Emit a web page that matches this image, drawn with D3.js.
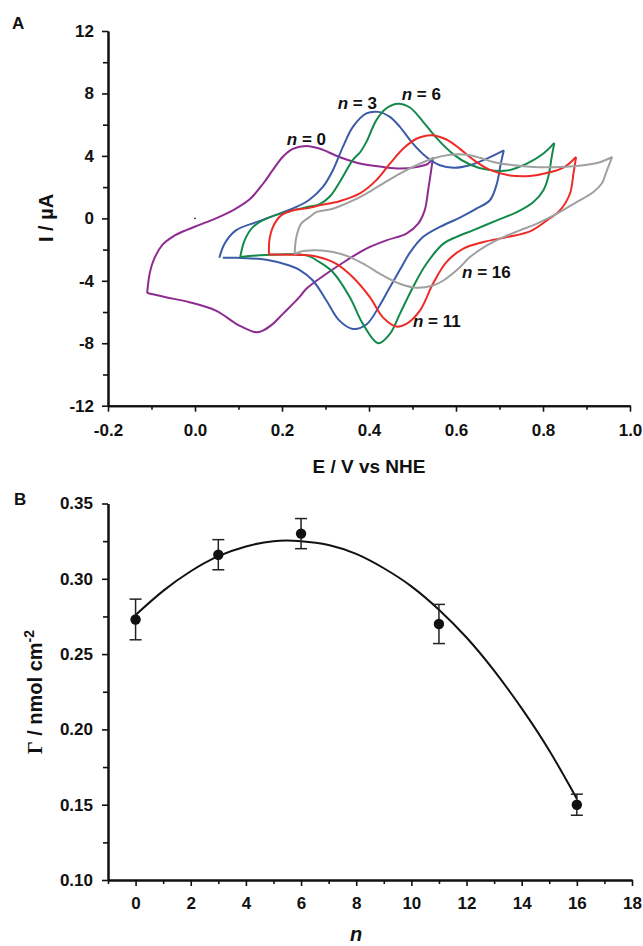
<!DOCTYPE html>
<html>
<head>
<meta charset="utf-8">
<script src="https://cdn.jsdelivr.net/npm/d3@7"></script>
<style>
  html, body { margin: 0; padding: 0; background: #fff; }
  svg { display: block; }
  text { font-family: "Liberation Sans", Arial, Helvetica, sans-serif; font-weight: bold; fill: #111; }
</style>
</head>
<body>
<div id="chart"></div>
<script>
// ---------------- Panel A data: cyclic voltammograms [E (V vs NHE), I (µA)] ----------------
const seriesNames = ["n = 0", "n = 3", "n = 6", "n = 11", "n = 16"];
const seriesColors = ["#8e2b91", "#3b5ba8", "#138a4b", "#ee2a26", "#a0a0a0"];

const cvN0 = [[-0.110,-4.78],[-0.104,-3.50],[-0.094,-2.60],[-0.075,-1.70],[-0.050,-1.15],[-0.020,-0.75],[0.010,-0.42],[0.048,0.00],[0.087,0.51],[0.125,1.20],[0.156,2.20],[0.179,3.10],[0.202,3.95],[0.225,4.45],[0.256,4.64],[0.286,4.47],[0.332,3.93],[0.379,3.51],[0.432,3.29],[0.471,3.19],[0.509,3.29],[0.536,3.51],[0.547,3.90],
  [0.544,3.29],[0.536,1.80],[0.528,0.51],[0.513,-0.34],[0.486,-0.98],[0.440,-1.41],[0.394,-1.94],[0.348,-2.70],[0.302,-3.55],[0.256,-4.51],[0.240,-5.05],[0.202,-6.12],[0.179,-6.76],[0.156,-7.19],[0.141,-7.30],[0.102,-6.87],[0.048,-5.91],[-0.013,-5.37],[-0.067,-5.05],[-0.110,-4.78]];

const cvN3 = [[0.056,-2.52],[0.068,-1.62],[0.094,-0.77],[0.141,-0.24],[0.194,0.30],[0.233,0.73],[0.263,1.19],[0.294,2.01],[0.317,3.08],[0.340,4.58],[0.363,5.86],[0.394,6.72],[0.421,6.82],[0.448,6.50],[0.471,5.86],[0.501,4.79],[0.532,3.93],[0.563,3.40],[0.594,3.24],[0.632,3.40],[0.671,3.83],[0.710,4.36],
  [0.703,3.51],[0.694,2.23],[0.678,1.16],[0.647,0.62],[0.609,0.05],[0.563,-0.55],[0.524,-1.20],[0.494,-2.20],[0.471,-3.30],[0.448,-4.41],[0.424,-5.60],[0.394,-6.80],[0.363,-7.08],[0.332,-6.55],[0.302,-5.26],[0.271,-3.98],[0.240,-3.30],[0.217,-3.02],[0.164,-2.65],[0.087,-2.52],[0.064,-2.52]];

const cvN6 = [[0.104,-2.48],[0.114,-1.41],[0.133,-0.56],[0.164,-0.02],[0.210,0.40],[0.256,0.71],[0.286,0.90],[0.310,1.40],[0.332,2.30],[0.363,3.75],[0.380,4.25],[0.394,4.90],[0.417,6.29],[0.440,7.05],[0.467,7.34],[0.494,7.10],[0.524,6.20],[0.555,5.15],[0.594,4.10],[0.632,3.45],[0.671,3.12],[0.717,3.06],[0.763,3.51],[0.801,4.15],[0.826,4.83],
  [0.820,3.93],[0.812,2.65],[0.801,1.80],[0.778,1.05],[0.740,0.40],[0.694,-0.13],[0.640,-0.75],[0.600,-1.20],[0.571,-1.62],[0.532,-2.91],[0.501,-4.41],[0.471,-6.12],[0.448,-7.40],[0.421,-8.00],[0.386,-6.76],[0.356,-5.05],[0.317,-3.45],[0.286,-2.80],[0.256,-2.37],[0.194,-2.31],[0.148,-2.37],[0.104,-2.48]];

const cvN11 = [[0.170,-2.31],[0.171,-1.41],[0.179,-0.56],[0.198,0.19],[0.225,0.51],[0.263,0.67],[0.286,0.83],[0.332,1.10],[0.379,1.60],[0.417,2.45],[0.448,3.50],[0.480,4.50],[0.509,5.10],[0.544,5.33],[0.578,5.05],[0.609,4.45],[0.640,3.75],[0.678,3.10],[0.724,2.75],[0.770,2.72],[0.816,2.95],[0.850,3.30],[0.876,3.93],
  [0.870,2.87],[0.862,1.59],[0.839,0.51],[0.809,-0.13],[0.770,-0.83],[0.717,-1.20],[0.663,-1.52],[0.617,-1.94],[0.578,-2.80],[0.547,-4.19],[0.517,-5.91],[0.486,-6.76],[0.463,-6.93],[0.432,-6.34],[0.402,-5.05],[0.363,-3.77],[0.325,-2.91],[0.279,-2.44],[0.240,-2.34],[0.170,-2.31]];

const cvN16 = [[0.229,-2.31],[0.233,-1.20],[0.244,-0.34],[0.263,0.08],[0.279,0.40],[0.317,0.62],[0.356,1.05],[0.394,1.59],[0.432,2.23],[0.471,2.87],[0.509,3.40],[0.547,3.83],[0.586,4.08],[0.624,4.08],[0.655,3.88],[0.686,3.61],[0.732,3.40],[0.778,3.29],[0.839,3.29],[0.893,3.40],[0.932,3.61],[0.959,3.93],
  [0.947,3.08],[0.935,2.23],[0.916,1.69],[0.878,1.05],[0.832,0.30],[0.786,-0.34],[0.747,-0.77],[0.709,-1.20],[0.671,-1.73],[0.632,-2.48],[0.609,-3.13],[0.571,-3.98],[0.547,-4.30],[0.509,-4.45],[0.471,-4.19],[0.432,-3.66],[0.394,-3.02],[0.356,-2.48],[0.317,-2.16],[0.279,-2.05],[0.240,-2.15],[0.229,-2.31]];

// label anchors (E, I) for the series annotations
const labelE = [0.211, 0.328, 0.475, 0.501, 0.614];
const labelI = [4.69, 7.00, 7.57, -6.93, -3.79];
const labelN = ["0", "3", "6", "11", "16"];

const aXTicks = [-0.2, 0.0, 0.2, 0.4, 0.6, 0.8, 1.0];
const aYTicks = [-12, -8, -4, 0, 4, 8, 12];

// ---------------- Panel B data ----------------
const nValues = [0, 3, 6, 11, 16];
const gammaValues = [0.273, 0.316, 0.330, 0.270, 0.150];
const gammaErrors = [0.0135, 0.010, 0.010, 0.013, 0.007];
const fitN = [0,1,2,3,4,5,6,7,8,9,10,11,12,13,14,15,16];
const fitGamma = [0.276,0.292,0.305,0.315,0.3215,0.325,0.325,0.3225,0.3165,0.307,0.295,0.2795,0.261,0.239,0.214,0.186,0.154];
const bXTicks = [0, 2, 4, 6, 8, 10, 12, 14, 16, 18];
const bYTicks = [0.10, 0.15, 0.20, 0.25, 0.30, 0.35];

// ---------------- Drawing ----------------
const W = 643, H = 946;
const svg = d3.select("#chart").append("svg").attr("width", W).attr("height", H)
  .attr("viewBox", `0 0 ${W} ${H}`);
svg.append("rect").attr("width", W).attr("height", H).attr("fill", "#fff");

function styleAxis(g) {
  g.selectAll(".domain").attr("stroke", "#111").attr("stroke-width", 2);
  g.selectAll(".tick line").attr("stroke", "#111").attr("stroke-width", 1.6);
  g.selectAll(".tick text").style("font-size", "17px").style("font-weight", "bold")
    .style("font-family", '"Liberation Sans", Arial, sans-serif').attr("fill", "#111");
}
const minus = v => (v < 0 ? "-" : "");

// Panel A scales
const xA = d3.scaleLinear().domain([-0.2, 1.0]).range([108, 630]);
const yA = d3.scaleLinear().domain([-12, 12]).range([405.7, 31]);

// minor ticks A
svg.append("g").attr("transform", `translate(0,${yA(-12)})`)
  .call(d3.axisBottom(xA).tickValues(d3.range(-0.1, 1.0, 0.2)).tickSize(4).tickSizeOuter(0).tickFormat(""))
  .call(styleAxis);
svg.append("g").attr("transform", `translate(${xA(-0.2)},0)`)
  .call(d3.axisLeft(yA).tickValues(d3.range(-10, 12, 4)).tickSize(5).tickSizeOuter(0).tickFormat(""))
  .call(styleAxis);
// major axes A
svg.append("g").attr("transform", `translate(0,${yA(-12)})`)
  .call(d3.axisBottom(xA).tickValues(aXTicks).tickSize(6).tickSizeOuter(0).tickPadding(12)
    .tickFormat(d => minus(d) + Math.abs(d).toFixed(1)))
  .call(styleAxis);
svg.append("g").attr("transform", `translate(${xA(-0.2)},0)`)
  .call(d3.axisLeft(yA).tickValues(aYTicks).tickSize(6).tickSizeOuter(0).tickPadding(8)
    .tickFormat(d => minus(d) + Math.abs(d)))
  .call(styleAxis);

// curves
const cvLine = d3.line().x(d => xA(d[0])).y(d => yA(d[1])).curve(d3.curveCatmullRom.alpha(0.5));
const cvSeries = [cvN0, cvN3, cvN6, cvN11, cvN16];
const gCurves = svg.append("g");
cvSeries.forEach((pts, i) => {
  const iMax = d3.maxIndex(pts, d => d[0]);
  [pts.slice(0, iMax + 1), pts.slice(iMax)].forEach(seg => {
    gCurves.append("path").attr("d", cvLine(seg)).attr("fill", "none")
      .attr("stroke", seriesColors[i]).attr("stroke-width", 2).attr("stroke-linejoin", "round");
  });
});
// small dot at origin present in original
const originMark = [[0, 0]];
svg.selectAll(".om").data(originMark).enter().append("circle")
  .attr("cx", d => xA(d[0])).attr("cy", d => yA(d[1])).attr("r", 0.9).attr("fill", "#222");

// series labels
labelN.forEach((lab, i) => {
  const t = svg.append("text").attr("x", xA(labelE[i])).attr("y", yA(labelI[i])).style("font-size", "17px");
  t.append("tspan").attr("font-style", "italic").text("n");
  t.append("tspan").text(" = " + lab);
});

// Panel A titles
svg.append("text").attr("x", 12).attr("y", 29).style("font-size", "17px").text("A");
svg.append("text").attr("x", 369).attr("y", 473).attr("text-anchor", "middle").style("font-size", "19px").text("E / V vs NHE");
svg.append("text").attr("transform", "translate(53,218) rotate(-90)").attr("text-anchor", "middle")
  .style("font-size", "20px").text("I / µA");

// Panel B scales
const xB = d3.scaleLinear().domain([-1, 18]).range([108, 632]);
const yB = d3.scaleLinear().domain([0.10, 0.35]).range([880, 503.5]);

svg.append("g").attr("transform", `translate(0,${yB(0.10)})`)
  .call(d3.axisBottom(xB).tickValues(d3.range(-1, 18, 2)).tickSize(4).tickSizeOuter(0).tickFormat(""))
  .call(styleAxis);
svg.append("g").attr("transform", `translate(${xB(-1)},0)`)
  .call(d3.axisLeft(yB).tickValues([0.125, 0.175, 0.225, 0.275, 0.325]).tickSize(5).tickSizeOuter(0).tickFormat(""))
  .call(styleAxis);
svg.append("g").attr("transform", `translate(0,${yB(0.10)})`)
  .call(d3.axisBottom(xB).tickValues(bXTicks).tickSize(6).tickSizeOuter(0).tickPadding(11).tickFormat(d => String(d)))
  .call(styleAxis);
svg.append("g").attr("transform", `translate(${xB(-1)},0)`)
  .call(d3.axisLeft(yB).tickValues(bYTicks).tickSize(6).tickSizeOuter(0).tickPadding(9).tickFormat(d => d.toFixed(2)))
  .call(styleAxis);

// fit curve
const fitLine = d3.line().x((d, i) => xB(fitN[i])).y(d => yB(d)).curve(d3.curveNatural);
svg.append("path").attr("d", fitLine(fitGamma)).attr("fill", "none").attr("stroke", "#111").attr("stroke-width", 2);

// error bars and points
const gPts = svg.append("g");
nValues.forEach((n, i) => {
  const x = xB(n), y0 = yB(gammaValues[i] - gammaErrors[i]), y1 = yB(gammaValues[i] + gammaErrors[i]);
  gPts.append("line").attr("x1", x).attr("x2", x).attr("y1", y0).attr("y2", y1).attr("stroke", "#222").attr("stroke-width", 1.5);
  [y0, y1].forEach(yy => gPts.append("line").attr("x1", x - 6).attr("x2", x + 6).attr("y1", yy).attr("y2", yy)
    .attr("stroke", "#222").attr("stroke-width", 1.5));
});
gPts.selectAll("circle").data(nValues).enter().append("circle")
  .attr("cx", d => xB(d)).attr("cy", (d, i) => yB(gammaValues[i])).attr("r", 5.2).attr("fill", "#111");

// Panel B titles
svg.append("text").attr("x", 14).attr("y", 505).style("font-size", "17px").text("B");
const xt = svg.append("text").attr("x", xB(8)).attr("y", 941).attr("text-anchor", "middle").style("font-size", "20px");
xt.append("tspan").attr("font-style", "italic").text("n");
const yt = svg.append("text").attr("transform", "translate(42,692) rotate(-90)").attr("text-anchor", "middle")
  .style("font-size", "20px");
yt.append("tspan").style("font-family", '"Liberation Serif", "Times New Roman", serif').text("Γ");
yt.append("tspan").text(" / nmol cm");
yt.append("tspan").attr("dy", -8).style("font-size", "14px").text("-2");
</script>
</body>
</html>
